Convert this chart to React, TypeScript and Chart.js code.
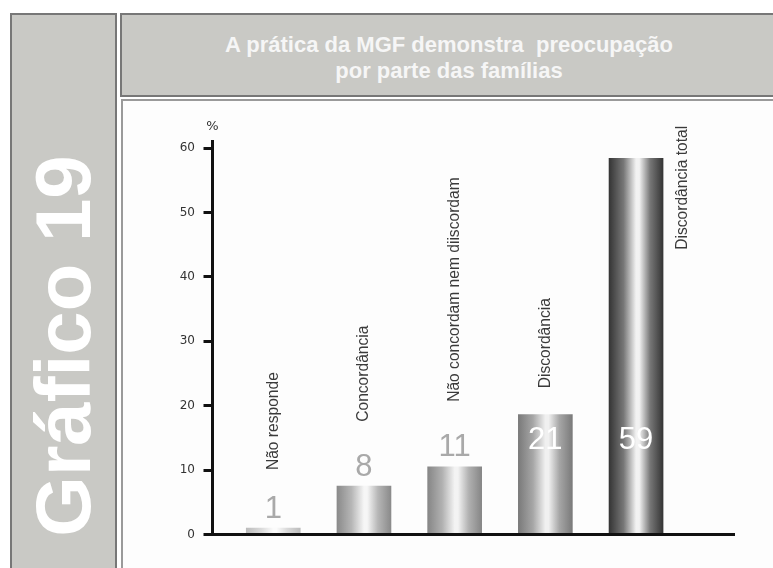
import React, { useEffect, useRef } from 'react';
import Chart from 'chart.js/auto';

// ---- data ----
const categories = ['Não responde', 'Concordância', 'Não concordam nem diiscordam', 'Discordância', 'Discordância total'];
const barValues = [1, 7.5, 10.5, 18.6, 58.4];
const valueLabels = ['1', '8', '11', '21', '59'];
const yTickValues = [0, 10, 20, 30, 40, 50, 60];
const yUnit = '%';
const titleLines = ['A prática da MGF demonstra  preocupação', 'por parte das famílias'];
const sideTitle = 'Gráfico 19';

// ---- styling / layout ----
const BAR_WIDTH = 54;
const BAR_TONES = [
  { edge: '#bcbcbc', mid: '#d9d9d9', light: '#fbfbfb' },
  { edge: '#8a8a8a', mid: '#b6b6b6', light: '#f6f6f6' },
  { edge: '#868686', mid: '#b1b1b1', light: '#f3f3f3' },
  { edge: '#7a7a7a', mid: '#a6a6a6', light: '#f0f0f0' },
  { edge: '#353535', mid: '#777777', light: '#f2f2f2' },
];
const VALUE_INSIDE = [false, false, false, true, true];
const INSIDE_LABEL_LEVEL = 14.6;
const CATEGORY_LABEL_ANCHORS = [
  { dx: 0, level: 10.0 },
  { dx: 0, level: 17.5 },
  { dx: 0, level: 20.6 },
  { dx: 0, level: 22.7 },
  { dx: 0.515, level: 44.2 },
];
const FONT = '"Liberation Sans", Arial, sans-serif';

function makeGradient(ctx: CanvasRenderingContext2D, cx: number, i: number) {
  const half = BAR_WIDTH / 2;
  const g = ctx.createLinearGradient(cx - half, 0, cx + half, 0);
  const t = BAR_TONES[i] || BAR_TONES[1];
  g.addColorStop(0, t.edge);
  g.addColorStop(0.27, t.mid);
  g.addColorStop(0.5, t.light);
  g.addColorStop(0.56, t.light);
  g.addColorStop(0.76, t.mid);
  g.addColorStop(1, t.edge);
  return g;
}

const gradientPlugin = {
  id: 'barGradient',
  beforeDatasetsDraw(chart: any) {
    const meta = chart.getDatasetMeta(0);
    meta.data.forEach((bar: any, i: number) => {
      if (!isFinite(bar.x)) return;
      bar.options = Object.assign({}, bar.options, {
        backgroundColor: makeGradient(chart.ctx, bar.x, i),
      });
    });
  },
};

const labelsPlugin = {
  id: 'barLabels',
  afterDatasetsDraw(chart: any) {
    const ctx = chart.ctx;
    const xs = chart.scales.x;
    const ys = chart.scales.y;
    const meta = chart.getDatasetMeta(0);
    ctx.save();
    meta.data.forEach((bar: any, i: number) => {
      ctx.font = `31px ${FONT}`;
      ctx.textAlign = 'center';
      if (VALUE_INSIDE[i]) {
        ctx.fillStyle = '#ffffff';
        ctx.textBaseline = 'middle';
        ctx.fillText(valueLabels[i], bar.x, ys.getPixelForValue(INSIDE_LABEL_LEVEL));
      } else {
        ctx.fillStyle = '#a9a9a9';
        ctx.textBaseline = 'alphabetic';
        ctx.fillText(valueLabels[i], bar.x, bar.y - 10.5);
      }
      const a = CATEGORY_LABEL_ANCHORS[i];
      const lx = xs.getPixelForValue(i + a.dx);
      const ly = ys.getPixelForValue(a.level);
      ctx.save();
      ctx.translate(lx, ly);
      ctx.rotate(-Math.PI / 2);
      ctx.font = `15.6px ${FONT}`;
      ctx.fillStyle = '#3a3a3a';
      ctx.textAlign = 'left';
      ctx.textBaseline = 'middle';
      ctx.fillText(categories[i], 0, 0);
      ctx.restore();
    });
    ctx.font = '13px "DejaVu Sans", sans-serif';
    ctx.fillStyle = '#333';
    ctx.textAlign = 'center';
    ctx.textBaseline = 'alphabetic';
    ctx.fillText(yUnit, ys.right, chart.chartArea.top - 12);
    ctx.restore();
  },
};

function ChartCanvas() {
  const ref = useRef<HTMLCanvasElement | null>(null);
  useEffect(() => {
    if (!ref.current) return;
    const chart = new Chart(ref.current, {
      type: 'bar',
      data: {
        datasets: [
          {
            data: barValues.map((v, i) => ({ x: i, y: v })),
            barThickness: BAR_WIDTH,
            borderWidth: 0,
            backgroundColor: (c: any) => (BAR_TONES[c.dataIndex] ? BAR_TONES[c.dataIndex].mid : '#999'),
          } as any,
        ],
      },
      options: {
        responsive: false,
        animation: false,
        layout: { padding: { top: 42.6, right: 39, left: 0, bottom: 0 } },
        plugins: { legend: { display: false }, tooltip: { enabled: false } },
        scales: {
          x: {
            type: 'linear',
            min: -0.67,
            max: 5.08,
            offset: false,
            ticks: { display: false },
            grid: { display: false, offset: false },
            border: { display: true, width: 3, color: '#111', z: 1 },
            afterFit: (s: any) => {
              s.height = 33.5;
            },
          },
          y: {
            type: 'linear',
            min: 0,
            max: 61,
            afterBuildTicks: (s: any) => {
              s.ticks = yTickValues.map((v) => ({ value: v }));
            },
            ticks: {
              padding: 8.5,
              color: '#333',
              font: { family: '"DejaVu Sans", sans-serif', size: 12 },
            },
            grid: {
              display: true,
              drawOnChartArea: false,
              drawTicks: true,
              tickLength: 9,
              tickWidth: 3,
              tickColor: '#111',
            },
            border: { display: true, width: 3, color: '#111' },
            afterFit: (s: any) => {
              s.width = 91.5;
            },
          },
        },
      } as any,
      plugins: [gradientPlugin, labelsPlugin],
    });
    return () => chart.destroy();
  }, []);
  return (
    <canvas
      ref={ref}
      width={652}
      height={469}
      style={{ position: 'absolute', left: 121, top: 99, width: 652, height: 469 }}
    />
  );
}

export default function App() {
  return (
    <div
      style={{
        position: 'absolute',
        left: 0,
        top: 0,
        width: 773,
        height: 568,
        overflow: 'hidden',
        background: '#ffffff',
        fontFamily: FONT,
      }}
    >
      <div
        style={{
          position: 'absolute',
          left: 10,
          top: 13,
          width: 107,
          height: 620,
          boxSizing: 'border-box',
          background: '#c9c9c5',
          border: '2px solid #777',
        }}
      />
      <div
        style={{
          position: 'absolute',
          left: 63,
          top: 346,
          transform: 'translate(-50%, -50%) rotate(-90deg)',
          whiteSpace: 'nowrap',
          fontWeight: 'bold',
          fontSize: 78,
          lineHeight: 1,
          color: '#ffffff',
          fontFamily: FONT,
        }}
      >
        {sideTitle}
      </div>
      <div
        style={{
          position: 'absolute',
          left: 120,
          top: 13,
          width: 658,
          height: 84,
          boxSizing: 'border-box',
          background: '#c9c9c5',
          border: '2px solid #777',
          paddingTop: 17,
          textAlign: 'center',
          color: '#f6f6f6',
          fontWeight: 'bold',
          fontSize: 22,
          lineHeight: '26px',
          whiteSpace: 'pre',
        }}
      >
        {titleLines.map((l, i) => (
          <div key={i}>{l}</div>
        ))}
      </div>
      <div
        style={{
          position: 'absolute',
          left: 121,
          top: 99,
          width: 700,
          height: 520,
          boxSizing: 'border-box',
          background: '#fdfdfd',
          borderTop: '2px solid #9a9a9a',
          borderLeft: '2px solid #9a9a9a',
        }}
      />
      <ChartCanvas />
    </div>
  );
}
